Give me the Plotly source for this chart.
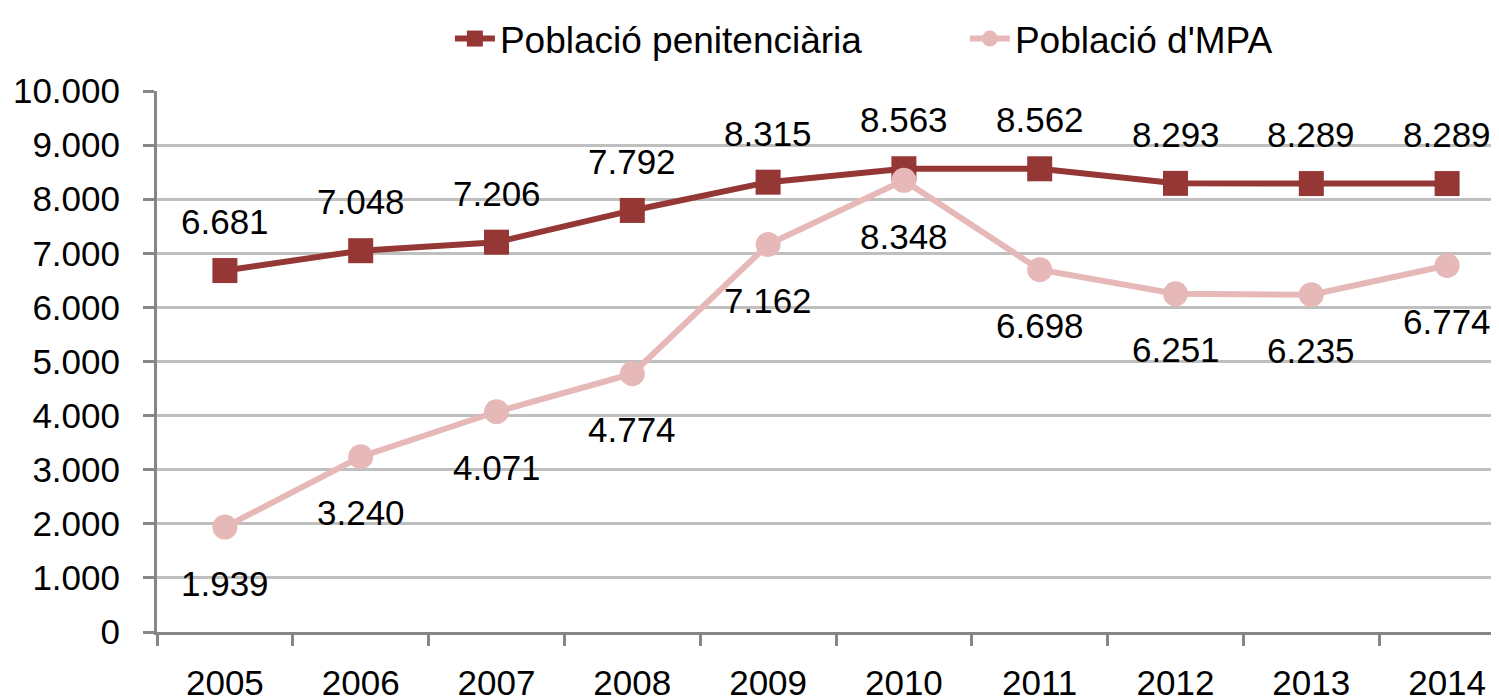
import plotly.graph_objects as go

years = ["2005", "2006", "2007", "2008", "2009", "2010", "2011", "2012", "2013", "2014"]
poblacio_penitenciaria = [6681, 7048, 7206, 7792, 8315, 8563, 8562, 8293, 8289, 8289]
poblacio_mpa = [1939, 3240, 4071, 4774, 7162, 8348, 6698, 6251, 6235, 6774]
y_ticks = [0, 1000, 2000, 3000, 4000, 5000, 6000, 7000, 8000, 9000, 10000]

DARK = "#953735"
PINK = "#E6B9B8"
FONT = "Liberation Sans, Arial, sans-serif"

def fmt(v):
    return f"{v:,}".replace(",", ".")

x = list(range(len(years)))

fig = go.Figure()
fig.add_trace(go.Scatter(
    x=x, y=poblacio_penitenciaria, name="Població penitenciària",
    mode="lines+markers",
    line=dict(color=DARK, width=6),
    marker=dict(symbol="square", size=25, color=DARK),
))
fig.add_trace(go.Scatter(
    x=x, y=poblacio_mpa, name="Població d'MPA",
    mode="lines+markers",
    line=dict(color=PINK, width=6),
    marker=dict(symbol="circle", size=25, color=PINK),
))

for xi, v in zip(x, poblacio_penitenciaria):
    fig.add_annotation(x=xi, y=v, text=fmt(v), showarrow=False, yshift=49,
                       font=dict(family=FONT, size=35, color="black"))
for xi, v in zip(x, poblacio_mpa):
    fig.add_annotation(x=xi, y=v, text=fmt(v), showarrow=False, yshift=-56,
                       font=dict(family=FONT, size=35, color="black"))

fig.update_layout(
    width=1491, height=689,
    margin=dict(l=149, r=0, t=83, b=65),
    paper_bgcolor="white", plot_bgcolor="white",
    separators=",.",
    font=dict(family=FONT, size=35, color="black"),
    showlegend=True,
    legend=dict(orientation="h", x=0.602, xanchor="center",
                yref="container", y=1.0, yanchor="top",
                font=dict(family=FONT, size=37, color="black"),
                entrywidth=460, itemwidth=40, bgcolor="rgba(0,0,0,0)"),
)
fig.update_xaxes(
    range=[-0.5, -0.5 + (1491 - 149) / 135.8],
    tickvals=x, ticktext=years, ticks="",
    showgrid=False, zeroline=False,
    showline=True, linecolor="#868686", linewidth=3,
    minor=dict(tickvals=[i + 0.5 for i in range(-1, len(years))],
               ticks="outside", ticklen=11, tickcolor="#868686", tickwidth=3, showgrid=False),
    tickfont=dict(family=FONT, size=35, color="black"),
    ticklabelstandoff=18,
    automargin=False,
)
fig.update_yaxes(
    range=[0, 10000], tickvals=y_ticks, tickformat=",d",
    ticks="outside", ticklen=11, tickcolor="#868686", tickwidth=3,
    showgrid=True, gridcolor="#BFBFBF", gridwidth=3,
    zeroline=False, showline=True, linecolor="#868686", linewidth=3,
    tickfont=dict(family=FONT, size=35, color="black"),
    ticklabelstandoff=16,
    automargin=False,
)

fig.write_html("out.html")
